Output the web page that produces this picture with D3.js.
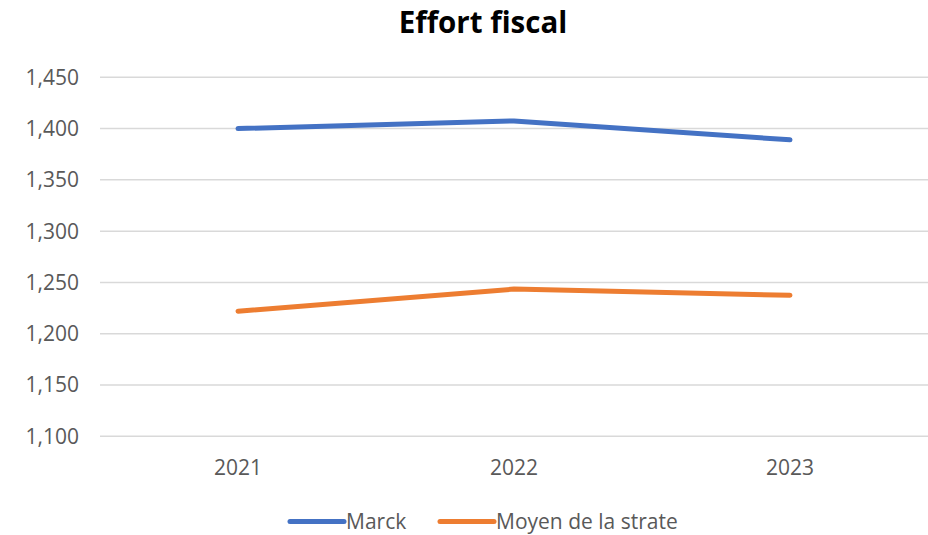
<!DOCTYPE html>
<html>
<head>
	<script src="https://cdn.jsdelivr.net/npm/d3@7"></script>
	<style>
		html, body {
			padding: 0;
			margin: 0;
			background: white;
		}
		text {
			font-family: "Open Sans", sans-serif;
		}
	</style>
</head>
<body>
	<div id="chart"></div>
	<script>
		var years = ["2021", "2022", "2023"];
		var marck = [1400, 1407.5, 1389];
		var moyen = [1222, 1243.5, 1237.5];
		var yTicks = [1100, 1150, 1200, 1250, 1300, 1350, 1400, 1450];
		var seriesNames = ["Marck", "Moyen de la strate"];
		var colors = ["#4472C4", "#ED7D31"];

		var width = 928, height = 535;

		var svg = d3.select("#chart").append("svg")
			.attr("width", width)
			.attr("height", height);

		var x = d3.scalePoint()
			.domain(years)
			.range([100, 928])
			.padding(0.5);

		var y = d3.scaleLinear()
			.domain([1100, 1450])
			.range([436.3, 77.3]);

		// gridlines
		svg.append("g")
			.selectAll("line")
			.data(yTicks)
			.enter().append("line")
			.attr("x1", 100)
			.attr("x2", 928)
			.attr("y1", function(d) { return y(d); })
			.attr("y2", function(d) { return y(d); })
			.attr("stroke", "#D9D9D9")
			.attr("stroke-width", 1.5);

		// y axis labels
		var fmt = d3.format(",");
		svg.append("g")
			.selectAll("text")
			.data(yTicks)
			.enter().append("text")
			.attr("x", 79)
			.attr("y", function(d) { return y(d); })
			.attr("dy", "0.35em")
			.attr("text-anchor", "end")
			.attr("fill", "#595959")
			.style("font-size", "21px")
			.text(function(d) { return fmt(d); });

		// x axis labels
		svg.append("g")
			.selectAll("text")
			.data(years)
			.enter().append("text")
			.attr("x", function(d) { return x(d); })
			.attr("y", 468)
			.attr("dy", "0.35em")
			.attr("text-anchor", "middle")
			.attr("fill", "#595959")
			.style("font-size", "21px")
			.text(function(d) { return d; });

		// lines
		var line = d3.line()
			.x(function(d, i) { return x(years[i]); })
			.y(function(d) { return y(d); });

		[marck, moyen].forEach(function(s, k) {
			svg.append("path")
				.datum(s)
				.attr("d", line)
				.attr("fill", "none")
				.attr("stroke", colors[k])
				.attr("stroke-width", 5)
				.attr("stroke-linecap", "round")
				.attr("stroke-linejoin", "round");
		});

		// title
		svg.append("text")
			.attr("x", 483)
			.attr("y", 23)
			.attr("dy", "0.35em")
			.attr("text-anchor", "middle")
			.attr("fill", "#000")
			.style("font-size", "29.5px")
			.style("font-weight", "bold")
			.text("Effort fiscal");

		// legend
		var legendX = [288, 438];
		seriesNames.forEach(function(name, k) {
			var g = svg.append("g").attr("transform", "translate(" + legendX[k] + ",521.5)");
			g.append("line")
				.attr("x1", 2).attr("x2", 56)
				.attr("stroke", colors[k])
				.attr("stroke-width", 5)
				.attr("stroke-linecap", "round");
			g.append("text")
				.attr("x", 58)
				.attr("dy", "0.35em")
				.attr("fill", "#595959")
				.style("font-size", "21px")
				.text(name);
		});
	</script>
</body>
</html>
